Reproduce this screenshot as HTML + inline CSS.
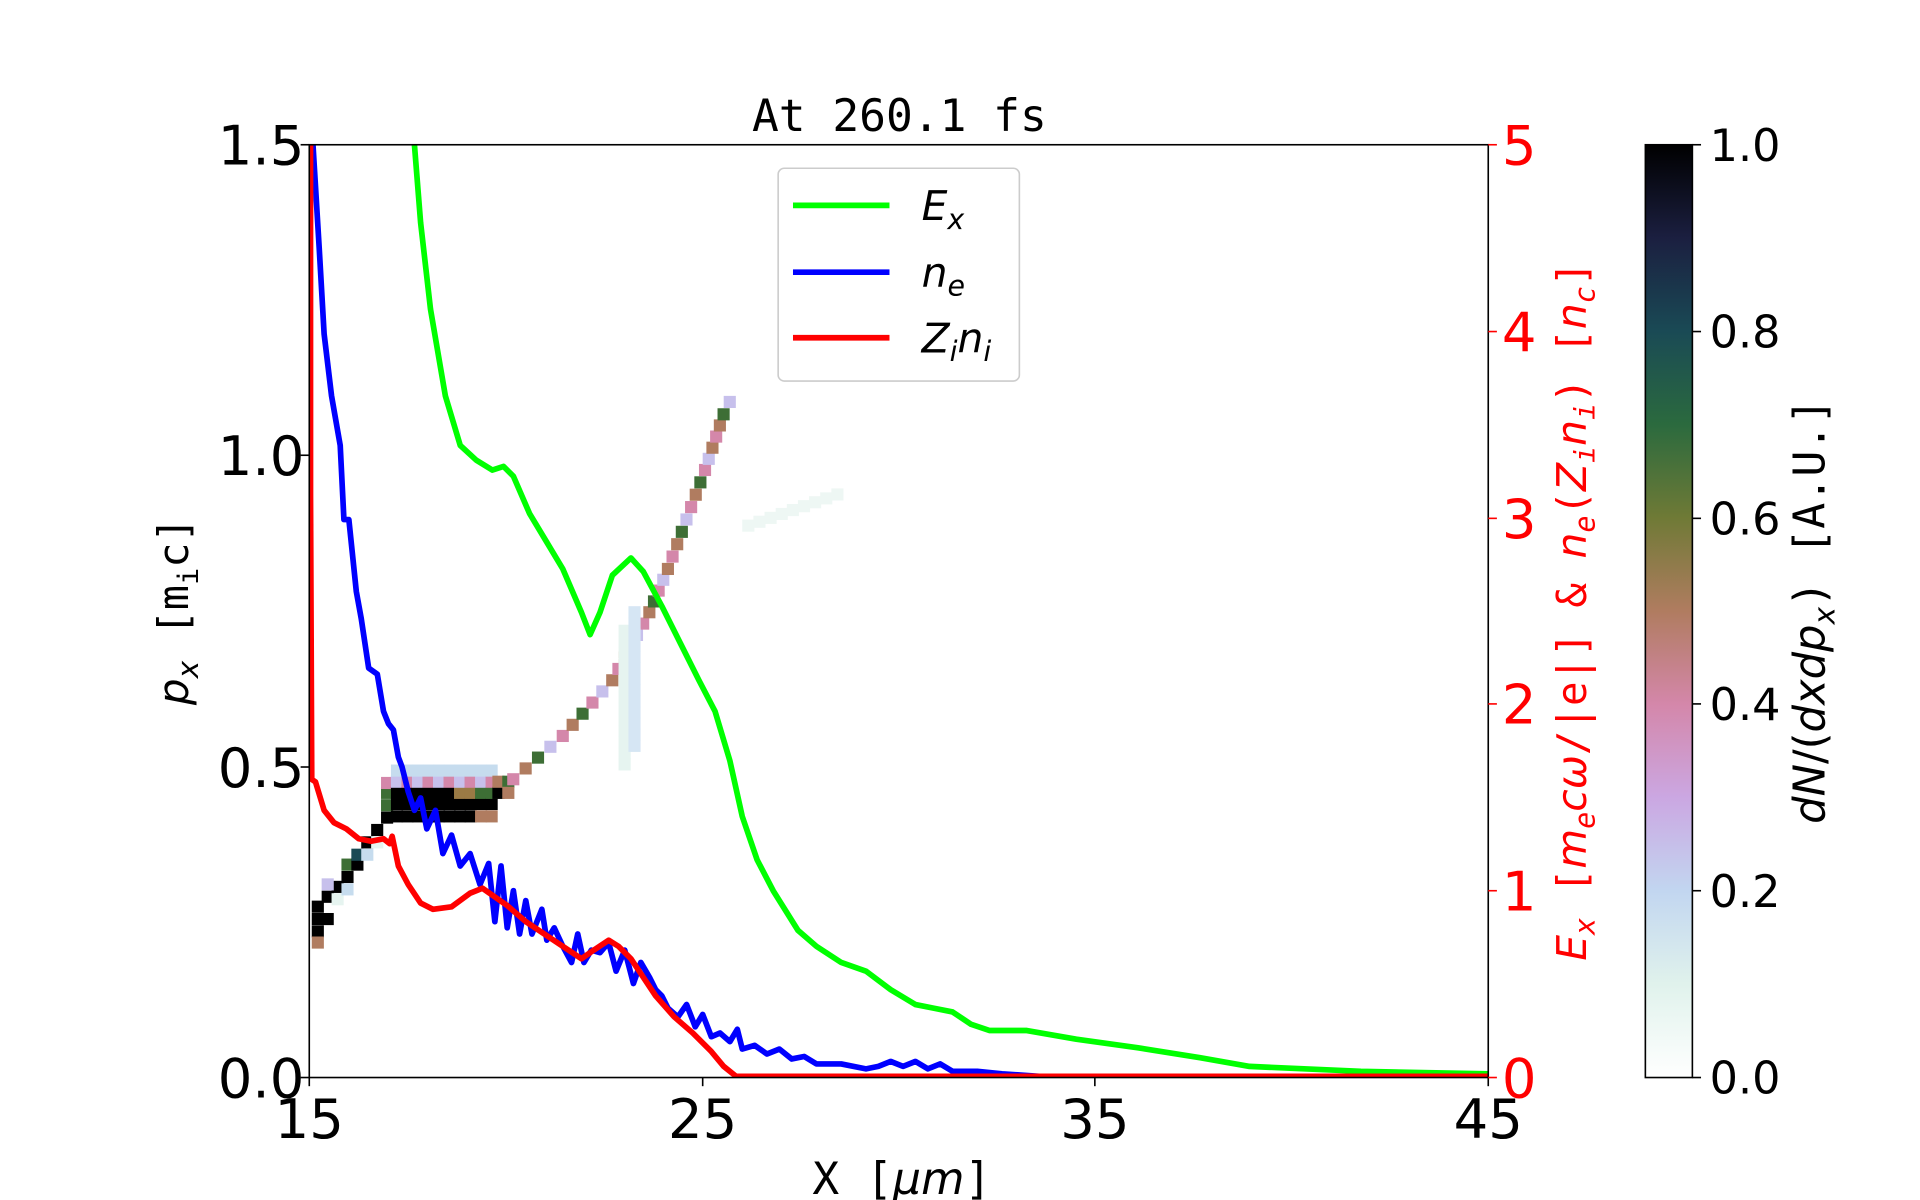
<!DOCTYPE html>
<html><head><meta charset="utf-8"><style>html,body{margin:0;padding:0;background:#fff;}svg{display:block}</style></head>
<body>
<svg id="s" width="1920" height="1200" viewBox="0 0 1552 970" preserveAspectRatio="none" xmlns="http://www.w3.org/2000/svg" font-family="'DejaVu Sans','Liberation Sans',sans-serif">
<defs>
<linearGradient id="cb" x1="0" y1="1" x2="0" y2="0">
<stop offset="0" stop-color="#ffffff"/><stop offset="0.1" stop-color="#e0f2ec"/><stop offset="0.2" stop-color="#c2d6f0"/>
<stop offset="0.3" stop-color="#cba7e2"/><stop offset="0.4" stop-color="#d487aa"/><stop offset="0.5" stop-color="#b07c60"/>
<stop offset="0.6" stop-color="#6f7a36"/><stop offset="0.7" stop-color="#2b6a3e"/><stop offset="0.8" stop-color="#1a4a55"/>
<stop offset="0.9" stop-color="#1b1f40"/><stop offset="1" stop-color="#000000"/></linearGradient>
<clipPath id="pc"><rect x="250" y="117" width="953" height="754"/></clipPath>
</defs>
<g id="heat" clip-path="url(#pc)"></g>
<g clip-path="url(#pc)" fill="none" stroke-width="4.6" stroke-linejoin="round">
<polyline stroke="#00ff00" points="335,117 340,180 348,250 360,320 372,360 385,372 398,380 407,377 415,385 428,415 440,435 455,460 470,495 477,513 485,495 495,465 510,451 520,462 535,490 550,520 565,550 578,575 590,615 600,660 612,695 625,720 645,752 660,765 680,778 700,785 720,800 740,812 755,815 770,818 785,828 800,833 830,833 870,840 920,847 970,855 1010,862 1100,866 1203,868"/>
<polyline stroke="#0000ff" points="253,117 258,200 262,270 268,320 275,360 278,420 282,420 288,478 292,500 298,540 305,545 310,575 314,585 318,590 322,612 325,620 330,640 335,655 340,645 345,670 352,655 358,690 365,675 372,700 380,690 388,715 395,698 400,745 405,700 410,750 415,720 420,755 425,728 430,755 438,735 442,760 448,750 455,765 462,778 467,755 472,778 478,768 485,770 492,762 498,785 505,768 512,795 518,778 525,790 530,800 535,805 540,815 548,822 555,812 562,830 568,820 575,838 582,835 590,842 596,832 600,848 610,845 620,852 630,848 640,856 650,854 660,860 680,860 700,864 710,862 720,858 730,862 740,858 750,864 760,860 770,866 790,866 810,868 840,870 900,870 1203,870"/>
<polyline stroke="#ff0000" points="251,117 251,400 252,630 255,632 262,655 270,665 280,670 290,678 300,680 310,678 315,682 317,676 322,700 330,715 340,730 350,735 365,733 380,722 390,718 400,725 410,732 425,745 440,755 455,765 470,775 480,768 492,760 500,765 510,775 520,790 530,805 545,822 560,835 575,850 585,862 595,870 1203,870"/>
</g>
<rect x="250" y="117" width="953" height="754" fill="none" stroke="#000" stroke-width="1.3"/>
<text x="727" y="106" font-family="'DejaVu Sans Mono','Liberation Mono',monospace" font-size="36" text-anchor="middle">At 260.1 fs</text>
<g font-size="44" text-anchor="end">
<text x="246" y="887">0.0</text><text x="246" y="636">0.5</text><text x="246" y="384">1.0</text><text x="246" y="133">1.5</text></g>
<g stroke="#000" stroke-width="1.3"><line x1="243" y1="871" x2="250" y2="871"/><line x1="243" y1="620" x2="250" y2="620"/><line x1="243" y1="368" x2="250" y2="368"/><line x1="243" y1="117" x2="250" y2="117"/>
<line x1="250" y1="871" x2="250" y2="878"/><line x1="568" y1="871" x2="568" y2="878"/><line x1="885" y1="871" x2="885" y2="878"/><line x1="1203" y1="871" x2="1203" y2="878"/></g>
<g font-size="44" text-anchor="middle"><text x="250" y="920">15</text><text x="568" y="920">25</text><text x="885" y="920">35</text><text x="1203" y="920">45</text></g>
<text x="729" y="965" font-size="36" font-family="'DejaVu Sans Mono','Liberation Mono',monospace" text-anchor="middle">X [<tspan font-style="italic" font-family="'DejaVu Sans',sans-serif">μm</tspan>]</text>
<text transform="translate(152,494) rotate(-90)" font-size="34" text-anchor="middle"><tspan font-style="italic">p</tspan><tspan font-style="italic" font-size="24" dy="8">x</tspan><tspan dy="-8" font-family="'DejaVu Sans Mono',monospace"> [m</tspan><tspan font-family="'DejaVu Sans Mono',monospace" font-size="23" dy="8">i</tspan><tspan dy="-8" font-family="'DejaVu Sans Mono',monospace">c]</tspan></text>
<g fill="#ff0000" stroke="#ff0000" stroke-width="1.3"><line x1="1203" y1="871" x2="1210" y2="871"/><line x1="1203" y1="720" x2="1210" y2="720"/><line x1="1203" y1="569" x2="1210" y2="569"/><line x1="1203" y1="419" x2="1210" y2="419"/><line x1="1203" y1="268" x2="1210" y2="268"/><line x1="1203" y1="117" x2="1210" y2="117"/></g>
<g fill="#ff0000" font-size="44"><text x="1214" y="887">0</text><text x="1214" y="736">1</text><text x="1214" y="585">2</text><text x="1214" y="435">3</text><text x="1214" y="284">4</text><text x="1214" y="133">5</text></g>
<text transform="translate(1282,494) rotate(-90)" fill="#ff0000" font-size="33" text-anchor="middle" font-family="'DejaVu Sans Mono',monospace"><tspan font-style="italic" font-family="'DejaVu Sans',sans-serif">E</tspan><tspan font-size="23" dy="7" font-style="italic">x</tspan><tspan dy="-7"> [</tspan><tspan font-style="italic" font-family="'DejaVu Sans',sans-serif">m</tspan><tspan font-size="23" dy="7" font-style="italic">e</tspan><tspan dy="-7" font-style="italic" font-family="'DejaVu Sans',sans-serif">cω</tspan><tspan>/|e|] &amp; </tspan><tspan font-style="italic" font-family="'DejaVu Sans',sans-serif">n</tspan><tspan font-size="23" dy="7" font-style="italic">e</tspan><tspan dy="-7">(</tspan><tspan font-style="italic" font-family="'DejaVu Sans',sans-serif">Z</tspan><tspan font-size="23" dy="7" font-style="italic">i</tspan><tspan dy="-7" font-style="italic" font-family="'DejaVu Sans',sans-serif">n</tspan><tspan font-size="23" dy="7" font-style="italic">i</tspan><tspan dy="-7">) [</tspan><tspan font-style="italic" font-family="'DejaVu Sans',sans-serif">n</tspan><tspan font-size="23" dy="7" font-style="italic">c</tspan><tspan dy="-7">]</tspan></text>
<rect x="629" y="136" width="195" height="172" rx="5" fill="#fff" fill-opacity="0.8" stroke="#ccc" stroke-width="1.3"/>
<g stroke-width="4.6"><line x1="641" y1="166" x2="719" y2="166" stroke="#00ff00"/><line x1="641" y1="220" x2="719" y2="220" stroke="#0000ff"/><line x1="641" y1="273" x2="719" y2="273" stroke="#ff0000"/></g>
<g font-size="33" font-style="italic"><text x="745" y="178">E<tspan font-size="23" dy="7">x</tspan></text><text x="745" y="232">n<tspan font-size="23" dy="7">e</tspan></text><text x="745" y="285">Z<tspan font-size="23" dy="7">i</tspan><tspan dy="-7">n</tspan><tspan font-size="23" dy="7">i</tspan></text></g>
<rect x="1330" y="117" width="38" height="754" fill="url(#cb)" stroke="#000" stroke-width="1.3"/>
<g stroke="#000" stroke-width="1.3"><line x1="1368" y1="871" x2="1375" y2="871"/><line x1="1368" y1="720" x2="1375" y2="720"/><line x1="1368" y1="569" x2="1375" y2="569"/><line x1="1368" y1="419" x2="1375" y2="419"/><line x1="1368" y1="268" x2="1375" y2="268"/><line x1="1368" y1="117" x2="1375" y2="117"/></g>
<g font-size="36"><text x="1382" y="884">0.0</text><text x="1382" y="733">0.2</text><text x="1382" y="582">0.4</text><text x="1382" y="432">0.6</text><text x="1382" y="281">0.8</text><text x="1382" y="130">1.0</text></g>
<text transform="translate(1475,494) rotate(-90)" font-size="35" text-anchor="middle"><tspan font-style="italic">dN</tspan>/(<tspan font-style="italic">dxdp</tspan><tspan font-style="italic" font-size="24" dy="8">x</tspan><tspan dy="-8" font-family="'DejaVu Sans Mono',monospace">) [A.U.]</tspan></text>
</svg>
<script>
(function(){
var g=document.getElementById('heat'),ns='http://www.w3.org/2000/svg';
function c(x,y,col){var r=document.createElementNS(ns,'rect');r.setAttribute('x',x);r.setAttribute('y',y);r.setAttribute('width',9.8);r.setAttribute('height',9.8);r.setAttribute('fill',col);g.appendChild(r);}
var K='#000',G='#3d6e35',P='#d487aa',B='#b07c60',L='#c7c0ec',T='#1a4a55',O='#9a7a45',W='#e6f4f0',S='#c6dcee';
var d=[[252,748,K],[252,738,K],[252,728,K],[260,738,K],[260,720,K],[268,712,K],[268,722,W],[276,704,K],[276,694,G],[284,694,K],[284,686,T],[292,676,K],[300,666,K],[300,676,W],[308,656,K],[308,646,G],[308,636,G],[308,628,P],[252,757,B],[260,710,L],[276,714,S],[292,686,S]];
d.forEach(function(a){c(a[0],a[1],a[2]);});
for(var x=316;x<400;x+=8.5){c(x,645,K);c(x,636,(x<360?K:(x<380?O:G)));c(x,655,(x<350?K:(x<380?K:B)));c(x,627,(x%17<8?P:L));c(x,618,S);}
c(398,636,K);c(398,627,B);c(406,627,G);c(406,636,B);
var pts=[[410,625],[450,590],[490,545],[520,490],[535,455],[550,415],[565,375],[580,330],[590,310]];
var cols=[P,B,G,L,P,B,G,P,L,B];var i=0;
for(var k=0;k<pts.length-1;k++){var a=pts[k],b=pts[k+1];var n=Math.max(1,Math.round(Math.abs(b[1]-a[1])/9.5));
for(var j=0;j<n;j++){var t=j/n;c(a[0]+(b[0]-a[0])*t,a[1]+(b[1]-a[1])*t,cols[i%cols.length]);i++;}}
for(var y=490;y<600;y+=9){c(508,y,'#d6e6f4');c(500,y+15,W);}
for(var x=600;x<680;x+=9){c(x,420-(x-600)*0.35,'#eef7f4');}
})();
</script>
</body></html>
